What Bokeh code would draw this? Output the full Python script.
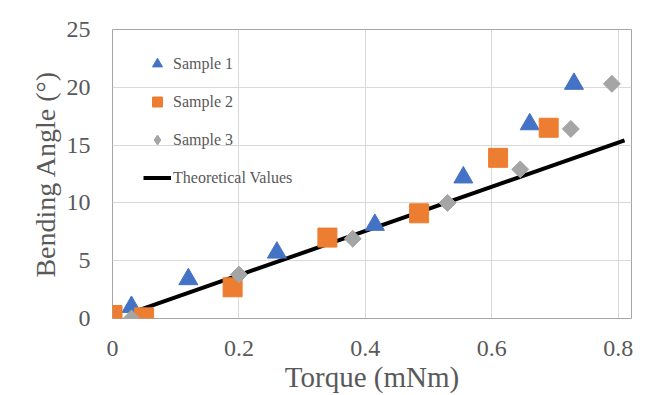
import math
from bokeh.plotting import figure
from bokeh.models import Range1d, FixedTicker, Legend, LegendItem
from bokeh.embed import file_html
from bokeh.resources import INLINE

# ---- data ----
s1_x = [0.03, 0.12, 0.26, 0.415, 0.555, 0.66, 0.73]
s1_y = [1.0, 3.4, 5.7, 8.1, 12.2, 16.8, 20.3]
s2_x = [0.0, 0.05, 0.19, 0.34, 0.485, 0.61, 0.69]
s2_y = [0.3, 0.1, 2.7, 7.0, 9.1, 13.9, 16.5]
s3_x = [0.03, 0.2, 0.38, 0.53, 0.645, 0.725, 0.79]
s3_y = [0.0, 3.8, 6.9, 10.0, 12.9, 16.4, 20.3]
theory_x = [0.035, 0.81]
theory_y = [0.6, 15.4]
x_ticks = [0, 0.2, 0.4, 0.6, 0.8]
x_tick_labels = ["0", "0.2", "0.4", "0.6", "0.8"]
y_ticks = [0, 5, 10, 15, 20, 25]
y_tick_labels = ["0", "5", "10", "15", "20", "25"]
series_names = ["Sample 1", "Sample 2", "Sample 3", "Theoretical Values"]

FONT = "Liberation Serif"
TXT = "#595959"

p = figure(width=665, height=395, output_backend="svg", toolbar_location=None,
           x_range=Range1d(0, 0.821), y_range=Range1d(0, 25),
           min_border_left=112, min_border_right=34, min_border_top=29, min_border_bottom=77,
           background_fill_color="white", border_fill_color="white")
p.outline_line_color = "#a6a6a6"
p.outline_line_width = 1

p.xaxis.ticker = FixedTicker(ticks=x_ticks)
p.yaxis.ticker = FixedTicker(ticks=y_ticks)
p.xaxis.major_label_overrides = {t: l for t, l in zip(x_ticks, x_tick_labels)}
p.yaxis.major_label_overrides = {t: l for t, l in zip(y_ticks, y_tick_labels)}
for ax in (p.xaxis, p.yaxis):
    ax.axis_line_color = None
    ax.major_tick_line_color = None
    ax.minor_tick_line_color = None
    ax.major_tick_out = 0
    ax.major_tick_in = 0
    ax.minor_tick_out = 0
    ax.minor_tick_in = 0
    ax.major_label_text_font = FONT
    ax.major_label_text_font_size = "24px"
    ax.major_label_text_color = TXT
    ax.major_label_text_line_height = 1.0
    ax.axis_label_text_font = FONT
    ax.axis_label_text_font_style = "normal"
    ax.axis_label_text_color = TXT
    ax.axis_label_text_line_height = 1.0
p.xaxis.axis_label_text_font_size = "29px"
p.yaxis.axis_label_text_font_size = "28px"
p.xaxis.major_label_standoff = 22
p.yaxis.major_label_standoff = 22
p.xaxis.axis_label = "Torque (mNm)"
p.yaxis.axis_label = "Bending Angle (°)"
p.xaxis.axis_label_standoff = 2
p.yaxis.axis_label_standoff = 3

p.xgrid.grid_line_color = "#d9d9d9"
p.ygrid.grid_line_color = "#d9d9d9"

r_line = p.line(theory_x, theory_y, line_color="black", line_width=4)
r1 = p.scatter(s1_x, s1_y, marker="triangle", size=19, fill_color="#4472C4", line_color="#4472C4")
r2 = p.scatter(s2_x, s2_y, marker="square", size=19, fill_color="#ED7D31", line_color="#ED7D31")
# diamond-shaped legend key for Sample 3 (hidden under the rotated squares)
r3_key = p.scatter(s3_x, s3_y, marker="diamond", size=12, fill_color="#A5A5A5", line_color="#A5A5A5")
r3 = p.scatter(s3_x, s3_y, marker="square", angle=math.pi / 4, size=12,
               fill_color="#A5A5A5", line_color="#A5A5A5")

legend = Legend(items=[LegendItem(label=series_names[0], renderers=[r1]),
                       LegendItem(label=series_names[1], renderers=[r2]),
                       LegendItem(label=series_names[2], renderers=[r3_key]),
                       LegendItem(label=series_names[3], renderers=[r_line])],
                location=(31, 128), border_line_color=None, background_fill_alpha=0,
                padding=0, margin=0, spacing=13, glyph_height=25, glyph_width=28,
                label_standoff=2, label_text_font=FONT, label_text_font_size="16px",
                label_text_color=TXT)
p.add_layout(legend)

open("out.html", "w").write(file_html(p, INLINE))
